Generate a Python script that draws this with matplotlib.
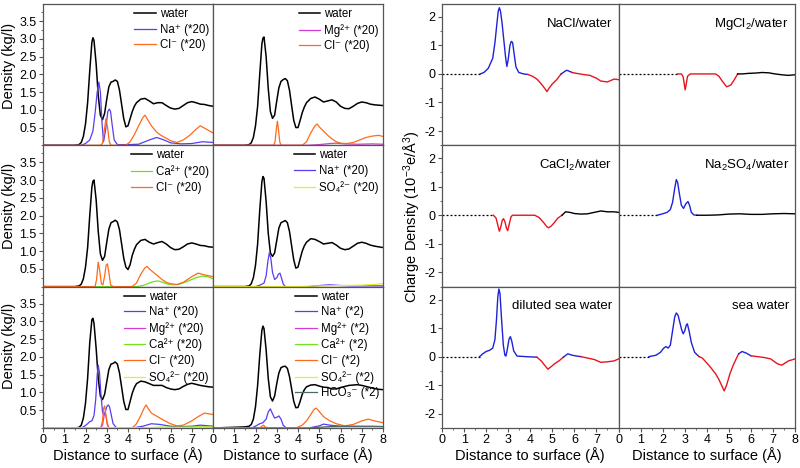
import matplotlib
matplotlib.use("Agg")
import matplotlib.pyplot as plt
from matplotlib.ticker import MultipleLocator

plt.rcParams['font.family'] = ['Liberation Sans', 'DejaVu Sans']
plt.rcParams['mathtext.fontset'] = 'custom'
plt.rcParams['mathtext.rm'] = 'Liberation Sans'
plt.rcParams['mathtext.it'] = 'Liberation Sans:italic'
plt.rcParams['mathtext.bf'] = 'Liberation Sans:bold'

# ---------------- density profiles (left block) ----------------
x_water = [0.0, 1.5, 1.7, 1.8, 1.9, 2.0, 2.1, 2.2, 2.3, 2.35,
           2.4, 2.5, 2.6, 2.7, 2.8, 2.9, 3.0, 3.1, 3.2, 3.3,
           3.4, 3.5, 3.6, 3.7, 3.8, 3.9, 4.0, 4.1, 4.2, 4.3,
           4.4, 4.6, 4.8, 5.0, 5.2, 5.4, 5.6, 5.8, 6.0, 6.2,
           6.4, 6.6, 6.8, 7.0, 7.2, 7.4, 7.6, 7.8, 8.0]

water_nacl = [0.0, 0.0, 0.02, 0.08, 0.25, 0.6, 1.2, 2.1, 2.9, 3.03,
              2.95, 2.3, 1.4, 0.85, 0.72, 0.9, 1.3, 1.65, 1.78, 1.8,
              1.84, 1.8, 1.55, 1.15, 0.75, 0.52, 0.55, 0.75, 0.95, 1.1,
              1.2, 1.3, 1.32, 1.25, 1.17, 1.2, 1.2, 1.12, 1.05, 1.02,
              1.04, 1.12, 1.2, 1.23, 1.2, 1.16, 1.15, 1.12, 1.1]
water_mgcl2 = [0.0, 0.0, 0.02, 0.07, 0.22, 0.55, 1.1, 2.0, 2.85, 3.02,
               3.05, 2.5, 1.6, 0.95, 0.76, 0.85, 1.25, 1.62, 1.8, 1.85,
               1.88, 1.82, 1.55, 1.12, 0.7, 0.5, 0.5, 0.7, 0.92, 1.08,
               1.2, 1.32, 1.36, 1.3, 1.22, 1.25, 1.28, 1.22, 1.1, 1.04,
               1.03, 1.1, 1.18, 1.22, 1.2, 1.16, 1.14, 1.13, 1.12]
water_cacl2 = [0.0, 0.0, 0.02, 0.07, 0.22, 0.55, 1.1, 2.0, 2.8, 2.97,
               3.0, 2.45, 1.55, 0.92, 0.74, 0.85, 1.25, 1.62, 1.8, 1.83,
               1.87, 1.82, 1.6, 1.2, 0.8, 0.55, 0.48, 0.62, 0.88, 1.05,
               1.18, 1.3, 1.33, 1.25, 1.2, 1.24, 1.27, 1.2, 1.1, 1.04,
               1.05, 1.12, 1.2, 1.23, 1.2, 1.16, 1.15, 1.12, 1.11]
water_na2so4 = [0.0, 0.0, 0.02, 0.08, 0.25, 0.6, 1.2, 2.15, 2.95, 3.1,
                3.05, 2.4, 1.5, 0.95, 0.85, 0.95, 1.3, 1.65, 1.8, 1.83,
                1.86, 1.8, 1.55, 1.15, 0.75, 0.52, 0.55, 0.78, 1.0, 1.15,
                1.25, 1.35, 1.33, 1.27, 1.2, 1.22, 1.24, 1.17, 1.08, 1.04,
                1.06, 1.14, 1.22, 1.25, 1.22, 1.17, 1.14, 1.12, 1.1]
water_dilsea = [0.0, 0.0, 0.02, 0.08, 0.28, 0.7, 1.4, 2.4, 3.05, 3.09,
                2.95, 2.25, 1.4, 0.9, 0.8, 0.95, 1.3, 1.65, 1.8, 1.82,
                1.86, 1.8, 1.55, 1.15, 0.75, 0.52, 0.52, 0.75, 0.98, 1.14,
                1.25, 1.32, 1.3, 1.25, 1.2, 1.2, 1.2, 1.14, 1.1, 1.08,
                1.1, 1.17, 1.23, 1.26, 1.23, 1.2, 1.18, 1.16, 1.15]
water_sea = [0.0, 0.03, 0.05, 0.1, 0.25, 0.6, 1.2, 2.05, 2.75, 2.87,
             2.8, 2.2, 1.4, 0.88, 0.76, 0.9, 1.25, 1.55, 1.7, 1.73,
             1.74, 1.68, 1.45, 1.1, 0.75, 0.57, 0.58, 0.75, 0.95, 1.08,
             1.16, 1.21, 1.22, 1.18, 1.15, 1.14, 1.1, 1.1, 1.14, 1.17,
             1.2, 1.21, 1.22, 1.2, 1.17, 1.14, 1.11, 1.09, 1.08]

# NaCl/water
na1_x = [0, 1.8, 2.0, 2.2, 2.35, 2.45, 2.55, 2.63, 2.7, 2.78, 2.85, 2.95, 3.05, 3.12,
         3.18, 3.25, 3.35, 3.5, 4.0, 4.5, 5.0, 5.35, 5.7, 6.0, 6.5, 7.0, 7.5, 8.0]
na1_y = [0, 0, 0.05, 0.15, 0.4, 0.9, 1.5, 1.78, 1.5, 0.6, 0.1, 0.45, 0.95, 1.02,
         0.95, 0.6, 0.15, 0.02, 0.02, 0.03, 0.15, 0.22, 0.15, 0.07, 0.04, 0.05, 0.1, 0.08]
cl1_x = [0, 2.7, 2.8, 2.88, 2.96, 3.04, 3.12, 3.2, 3.9, 4.1, 4.3, 4.5, 4.7, 4.8,
         4.9, 5.1, 5.35, 5.55, 5.8, 6.0, 6.3, 6.6, 6.9, 7.2, 7.4, 7.7, 8.0]
cl1_y = [0, 0, 0.05, 0.4, 0.75, 0.5, 0.1, 0, 0, 0.1, 0.3, 0.55, 0.78, 0.85,
         0.75, 0.55, 0.37, 0.28, 0.2, 0.13, 0.08, 0.15, 0.28, 0.45, 0.55, 0.45, 0.35]

# MgCl2/water
mg2_x = [0, 4.5, 5.0, 5.5, 5.8, 6.2, 6.8, 7.5, 8.0]
mg2_y = [0, 0, 0.02, 0.05, 0.06, 0.04, 0.03, 0.04, 0.03]
cl2_x = [0, 2.85, 2.92, 2.98, 3.03, 3.08, 3.14, 3.2, 4.2, 4.4, 4.6, 4.8, 4.9, 5.0,
         5.2, 5.4, 5.6, 5.8, 6.0, 6.3, 6.6, 6.9, 7.2, 7.5, 7.8, 8.0]
cl2_y = [0, 0, 0.1, 0.45, 0.68, 0.45, 0.1, 0, 0, 0.1, 0.35, 0.55, 0.6, 0.52,
         0.4, 0.28, 0.18, 0.1, 0.06, 0.05, 0.08, 0.15, 0.22, 0.26, 0.28, 0.25]

# CaCl2/water
ca3_x = [0, 4.4, 4.7, 5.0, 5.2, 5.4, 5.6, 5.8, 6.1, 6.4, 6.8, 7.2, 7.5, 7.8, 8.0]
ca3_y = [0, 0, 0.03, 0.1, 0.14, 0.16, 0.13, 0.08, 0.05, 0.06, 0.15, 0.25, 0.3, 0.27, 0.22]
cl3_x = [0, 2.45, 2.52, 2.6, 2.68, 2.75, 2.82, 2.9, 2.97, 3.03, 3.1, 3.18, 3.3, 4.2, 4.4,
         4.6, 4.8, 4.9, 5.0, 5.2, 5.4, 5.6, 5.8, 6.0, 6.3, 6.6, 7.0, 7.3, 7.6, 8.0]
cl3_y = [0, 0, 0.2, 0.69, 0.4, 0.08, 0.05, 0.3, 0.6, 0.64, 0.4, 0.05, 0, 0, 0.1,
         0.35, 0.53, 0.57, 0.5, 0.4, 0.3, 0.2, 0.12, 0.08, 0.06, 0.12, 0.28, 0.38, 0.33, 0.28]

# Na2SO4/water
na4_x = [0, 2.0, 2.2, 2.4, 2.5, 2.58, 2.65, 2.72, 2.8, 2.9, 3.0, 3.08, 3.15, 3.22,
         3.3, 3.4, 4.5, 5.0, 5.5, 6.0, 6.5, 7.0, 8.0]
na4_y = [0, 0, 0.04, 0.1, 0.3, 0.7, 0.95, 0.8, 0.4, 0.2, 0.25, 0.35, 0.38, 0.25,
         0.08, 0, 0, 0.03, 0.05, 0.03, 0.02, 0.02, 0.02]
so4_4_x = [0, 4.0, 5.0, 6.0, 7.0, 7.5, 8.0]
so4_4_y = [0, 0, 0.02, 0.03, 0.04, 0.06, 0.08]

# diluted sea water (*20)
na5_x = [0, 1.8, 1.95, 2.1, 2.2, 2.3, 2.4, 2.48, 2.55, 2.6, 2.66, 2.72, 2.8, 2.86, 2.93,
         3.0, 3.07, 3.13, 3.2, 3.3, 3.45, 4.3, 4.7, 5.1, 5.5, 6.0, 6.5, 7.0, 7.4, 8.0]
na5_y = [0, 0, 0.05, 0.12, 0.18, 0.2, 0.35, 0.8, 1.5, 1.77, 1.55, 1.0, 0.45, 0.37, 0.45,
         0.6, 0.65, 0.6, 0.4, 0.12, 0.01, 0.01, 0.05, 0.12, 0.1, 0.05, 0.04, 0.05, 0.08, 0.05]
mg5_x = [0, 2.7, 2.8, 2.88, 2.95, 3.02, 3.1, 5.0, 8.0]
mg5_y = [0, 0, 0.08, 0.36, 0.38, 0.15, 0, 0.01, 0.01]
ca5_x = [0, 4.5, 5.5, 7.0, 8.0]
ca5_y = [0, 0, 0.02, 0.03, 0.03]
cl5_x = [0, 2.72, 2.8, 2.85, 2.9, 2.95, 3.02, 3.1, 4.2, 4.4, 4.6, 4.75, 4.85, 4.95,
         5.1, 5.3, 5.5, 5.8, 6.0, 6.3, 6.6, 7.0, 7.3, 7.6, 8.0]
cl5_y = [0, 0, 0.2, 0.55, 0.62, 0.4, 0.1, 0, 0, 0.12, 0.35, 0.55, 0.65, 0.55,
         0.42, 0.35, 0.28, 0.18, 0.12, 0.06, 0.08, 0.2, 0.32, 0.42, 0.38]
so4_5_x = [0, 5.0, 8.0]
so4_5_y = [0, 0.01, 0.02]

# sea water (*2)
na6_x = [0, 1.8, 2.0, 2.2, 2.35, 2.5, 2.6, 2.7, 2.8, 2.9, 3.0, 3.1, 3.2, 3.3, 3.45,
         4.5, 5.0, 5.2, 5.5, 6.0, 7.0, 8.0]
na6_y = [0, 0, 0.05, 0.12, 0.15, 0.25, 0.45, 0.54, 0.4, 0.28, 0.3, 0.34, 0.25, 0.08, 0,
         0, 0.06, 0.11, 0.08, 0.05, 0.04, 0.04]
mg6_x = [0, 2.5, 8.0]
mg6_y = [0, 0.01, 0.01]
ca6_x = [0, 3.0, 8.0]
ca6_y = [0, 0.01, 0.01]
cl6_x = [0, 2.2, 2.3, 2.38, 2.45, 2.6, 3.9, 4.2, 4.4, 4.6, 4.75, 4.85, 4.95, 5.2, 5.5,
         5.8, 6.2, 6.6, 7.0, 7.3, 7.6, 8.0]
cl6_y = [0, 0, 0.05, 0.08, 0.03, 0, 0, 0.08, 0.2, 0.38, 0.52, 0.56, 0.5, 0.32, 0.2,
         0.12, 0.06, 0.1, 0.2, 0.25, 0.2, 0.15]
so4_6_x = [0, 4.0, 8.0]
so4_6_y = [0, 0.01, 0.02]
hco3_6_x = [0, 4.5, 5.5, 6.5, 7.5, 8.0]
hco3_6_y = [0, 0, 0.04, 0.05, 0.05, 0.04]

# ---------------- charge density (right block) ----------------
nacl_x = [1.73, 1.9, 2.1, 2.3, 2.4, 2.48, 2.55, 2.6, 2.65, 2.72,
          2.8, 2.88, 2.94, 3.0, 3.08, 3.14, 3.2, 3.27, 3.35, 3.48,
          3.7, 3.9, 4.1, 4.3, 4.5, 4.65, 4.76, 4.85, 5.0, 5.2,
          5.4, 5.55, 5.65, 5.75, 5.9, 6.1, 6.4, 6.7, 7.0, 7.2,
          7.5, 7.8, 8.0]
nacl_q = [0, 0.05, 0.2, 0.55, 1.1, 1.7, 2.2, 2.32, 2.2, 1.8,
          1.2, 0.6, 0.26, 0.5, 1.0, 1.14, 1.1, 0.7, 0.25, 0.05,
          0.0, -0.02, -0.08, -0.18, -0.35, -0.5, -0.62, -0.5, -0.35, -0.2,
          0.0, 0.08, 0.13, 0.1, 0.05, 0.02, -0.02, -0.05, -0.15, -0.25,
          -0.28, -0.18, -0.2]
nacl_parts = [(1.73, 3.9, 'blue'), (3.9, 5.4, 'red'), (5.4, 5.9, 'blue'), (5.9, 8.0, 'red')]

mgcl2_x = [2.67, 2.85, 2.93, 2.98, 3.02, 3.07, 3.13, 3.25, 4.4, 4.55, 4.7, 4.8, 4.9,
           5.0, 5.1, 5.25, 5.4, 5.6, 5.9, 6.2, 6.5, 6.8, 7.1, 7.4, 7.7, 8.0]
mgcl2_q = [0, 0, -0.1, -0.35, -0.56, -0.35, -0.08, 0, 0, -0.08, -0.25, -0.35, -0.45,
           -0.42, -0.38, -0.2, 0.0, 0.0, 0.02, 0.03, 0.05, 0.04, 0.0, -0.03, -0.05, -0.03]
mgcl2_parts = [(2.67, 5.4, 'red'), (5.4, 8.0, 'black')]

cacl2_x = [2.33, 2.45, 2.53, 2.6, 2.67, 2.73, 2.79, 2.86, 2.92, 2.98, 3.05, 3.13, 3.2,
           4.2, 4.4, 4.6, 4.75, 4.83, 4.95, 5.1, 5.25, 5.44, 5.6, 5.8, 6.0, 6.3,
           6.6, 6.9, 7.2, 7.5, 7.8, 8.0]
cacl2_q = [0, -0.1, -0.35, -0.56, -0.4, -0.18, -0.12, -0.25, -0.45, -0.54, -0.3, -0.05, 0,
           0, -0.08, -0.25, -0.4, -0.44, -0.38, -0.25, -0.1, 0.0, 0.12, 0.1, 0.06, 0.04,
           0.05, 0.1, 0.15, 0.12, 0.12, 0.1]
cacl2_parts = [(2.33, 5.44, 'red'), (5.44, 8.0, 'black')]

na2so4_x = [1.76, 2.0, 2.2, 2.35, 2.45, 2.55, 2.62, 2.68, 2.75, 2.85, 2.95, 3.05, 3.15,
            3.22, 3.3, 3.42, 3.55, 4.0, 4.5, 5.0, 5.5, 6.0, 6.5, 7.0, 7.5, 8.0]
na2so4_q = [0, 0.05, 0.1, 0.2, 0.45, 0.95, 1.25, 1.15, 0.8, 0.35, 0.24, 0.4, 0.48,
            0.35, 0.1, 0.01, 0, 0, 0.01, 0.04, 0.05, 0.03, 0.03, 0.05, 0.06, 0.05]
na2so4_parts = [(1.76, 3.55, 'blue'), (3.55, 8.0, 'black')]

dilsea_x = [1.7, 1.85, 2.0, 2.15, 2.3, 2.4, 2.47, 2.53, 2.58, 2.63, 2.7, 2.78, 2.85,
            2.9, 2.97, 3.04, 3.1, 3.16, 3.25, 3.4, 3.8, 4.3, 4.5, 4.65, 4.8, 4.95,
            5.1, 5.3, 5.5, 5.7, 5.9, 6.1, 6.3, 6.6, 6.9, 7.2, 7.5, 7.8, 8.0]
dilsea_q = [0, 0.1, 0.18, 0.22, 0.3, 0.6, 1.3, 2.1, 2.37, 2.2, 1.3, 0.4, 0.05,
            0.02, 0.3, 0.62, 0.7, 0.55, 0.2, 0.02, 0, -0.02, -0.15, -0.3, -0.44, -0.35,
            -0.25, -0.15, -0.02, 0.1, 0.05, 0.02, 0.0, -0.05, -0.1, -0.2, -0.18, -0.15, -0.08]
dilsea_parts = [(1.7, 4.3, 'blue'), (4.3, 5.5, 'red'), (5.5, 6.3, 'blue'), (6.3, 8.0, 'red')]

sea_x = [1.38, 1.7, 1.9, 2.05, 2.15, 2.25, 2.35, 2.45, 2.55, 2.62,
         2.7, 2.78, 2.86, 2.93, 3.0, 3.07, 3.12, 3.2, 3.3, 3.45,
         3.65, 3.8, 4.0, 4.2, 4.4, 4.55, 4.7, 4.79, 4.9, 5.05,
         5.2, 5.35, 5.45, 5.6, 5.8, 6.0, 6.3, 6.6, 6.9, 7.2,
         7.4, 7.7, 8.0]
sea_q = [0, 0.05, 0.15, 0.3, 0.35, 0.3, 0.4, 0.9, 1.4, 1.53,
         1.45, 1.2, 0.95, 0.8, 0.9, 1.1, 1.15, 0.9, 0.5, 0.15,
         0.0, -0.05, -0.22, -0.4, -0.6, -0.8, -1.05, -1.2, -1.0, -0.6,
         -0.3, -0.05, 0.1, 0.18, 0.12, 0.03, 0.0, -0.03, -0.08, -0.25,
         -0.3, -0.15, -0.08]
sea_parts = [(1.38, 3.65, 'blue'), (3.65, 5.45, 'red'), (5.45, 6.0, 'blue'), (6.0, 8.0, 'red')]

# ---------------- styling ----------------
ion_colors = {"water": "black", "Na": "#5a3cf0", "Mg": "#d83ad8", "Ca": "#6ee01c",
              "Cl": "#ff6a1a", "SO4": "#ecec1e", "HCO3": "#4a6a6a"}
q_colors = {"blue": "#1e22d8", "red": "#e8141e", "black": "black"}
spine_col = "#555555"

W, H = 800, 468
fig = plt.figure(figsize=(8, 4.68), dpi=100)

row_tops = [4, 145.3, 286.7]
row_h = 141.3


def add_ax(x0, y0, w, h):
    return fig.add_axes([x0 / W, 1 - (y0 + h) / H, w / W, h / H])


def style_ax(ax, col, row, ylims, yloc, yminor, ylabels_fmt):
    ax.set_xlim(0, 8)
    ax.set_ylim(*ylims)
    for s in ax.spines.values():
        s.set_color(spine_col)
        s.set_linewidth(0.9)
    ax.xaxis.set_major_locator(MultipleLocator(1))
    ax.xaxis.set_minor_locator(MultipleLocator(0.5))
    ax.tick_params(which='both', direction='out', labelsize=9, color=spine_col,
                   pad=1.5, top=False, right=False)
    ax.tick_params(which='major', length=3)
    ax.tick_params(which='minor', length=1.5)
    if row == 2:
        ax.set_xticks(range(9))
        labels = [str(i) for i in range(9)]
        if col == 0:
            labels[-1] = ""
        ax.set_xticklabels(labels)
    else:
        ax.tick_params(axis='x', which='both', bottom=False, labelbottom=False)
    if col == 0:
        ax.set_yticks(yloc)
        ax.set_yticklabels([ylabels_fmt(v) for v in yloc])
        ax.yaxis.set_minor_locator(MultipleLocator(yminor))
    else:
        ax.tick_params(axis='y', which='both', left=False, labelleft=False)


# left block
left_cols = [43, 213]
left_w = 170
panels = [
    (water_nacl, [("Na⁺ (*20)", "Na", na1_x, na1_y), ("Cl⁻ (*20)", "Cl", cl1_x, cl1_y)]),
    (water_mgcl2, [("Mg²⁺ (*20)", "Mg", mg2_x, mg2_y), ("Cl⁻ (*20)", "Cl", cl2_x, cl2_y)]),
    (water_cacl2, [("Ca²⁺ (*20)", "Ca", ca3_x, ca3_y), ("Cl⁻ (*20)", "Cl", cl3_x, cl3_y)]),
    (water_na2so4, [("Na⁺ (*20)", "Na", na4_x, na4_y), ("SO₄²⁻ (*20)", "SO4", so4_4_x, so4_4_y)]),
    (water_dilsea, [("Na⁺ (*20)", "Na", na5_x, na5_y), ("Mg²⁺ (*20)", "Mg", mg5_x, mg5_y),
                    ("Ca²⁺ (*20)", "Ca", ca5_x, ca5_y), ("Cl⁻ (*20)", "Cl", cl5_x, cl5_y),
                    ("SO₄²⁻ (*20)", "SO4", so4_5_x, so4_5_y)]),
    (water_sea, [("Na⁺ (*2)", "Na", na6_x, na6_y), ("Mg²⁺ (*2)", "Mg", mg6_x, mg6_y),
                 ("Ca²⁺ (*2)", "Ca", ca6_x, ca6_y), ("Cl⁻ (*2)", "Cl", cl6_x, cl6_y),
                 ("SO₄²⁻ (*2)", "SO4", so4_6_x, so4_6_y),
                 ("HCO₃⁻ (*2)", "HCO3", hco3_6_x, hco3_6_y)]),
]
dens_ticks = [0.5, 1.0, 1.5, 2.0, 2.5, 3.0, 3.5]

for i, (wy, ions) in enumerate(panels):
    row, col = divmod(i, 2)
    ax = add_ax(left_cols[col], row_tops[row], left_w, row_h)
    ax.plot(x_water, wy, color="black", lw=1.1, label="water")
    for lab, key, xs, ys in ions:
        ax.plot(xs, ys, color=ion_colors[key], lw=0.9, label=lab)
    style_ax(ax, col, row, (0, 3.98), dens_ticks, 0.25, lambda v: f"{v:.1f}")
    ax.legend(loc="upper right", bbox_to_anchor=(1.0, 1.0), frameon=False,
              fontsize=8.3, handlelength=1.85, handletextpad=0.35, labelspacing=0.32,
              borderaxespad=0.0, borderpad=0.35)

# right block
right_cols = [442, 618.5]
right_w = 176.5
charge = [
    ("NaCl/water", nacl_x, nacl_q, nacl_parts),
    ("MgCl$_2$/water", mgcl2_x, mgcl2_q, mgcl2_parts),
    ("CaCl$_2$/water", cacl2_x, cacl2_q, cacl2_parts),
    ("Na$_2$SO$_4$/water", na2so4_x, na2so4_q, na2so4_parts),
    ("diluted sea water", dilsea_x, dilsea_q, dilsea_parts),
    ("sea water", sea_x, sea_q, sea_parts),
]
for i, (title, xs, qs, parts) in enumerate(charge):
    row, col = divmod(i, 2)
    ax = add_ax(right_cols[col], row_tops[row], right_w, row_h)
    ax.plot([0, xs[0]], [0, 0], color="black", lw=0.9, linestyle=(0, (1.6, 1.6)))
    for lo, hi, c in parts:
        seg = [(x, q) for x, q in zip(xs, qs) if lo <= x <= hi]
        ax.plot([p[0] for p in seg], [p[1] for p in seg], color=q_colors[c], lw=1.0)
    style_ax(ax, col, row, (-2.5, 2.45), [-2, -1, 0, 1, 2], 0.5, lambda v: f"{v:d}")
    ax.text(0.965, 0.86, title, transform=ax.transAxes, ha="right", va="center", fontsize=9.5)

# axis labels
for yc in [65.5, 206, 346]:
    fig.text(9 / W, 1 - yc / H, "Density (kg/l)", rotation=90, ha="center", va="center",
             fontsize=10.5)
fig.text(412 / W, 1 - 217 / H, "Charge Density (10$^{-3}$e/Å$^3$)", rotation=90,
         ha="center", va="center", fontsize=10.5)
for xc in [128, 298, 530, 707]:
    fig.text(xc / W, 1 - 455 / H, "Distance to surface (Å)", ha="center", va="center",
             fontsize=10.5)

fig.savefig("out.png", dpi=100)
